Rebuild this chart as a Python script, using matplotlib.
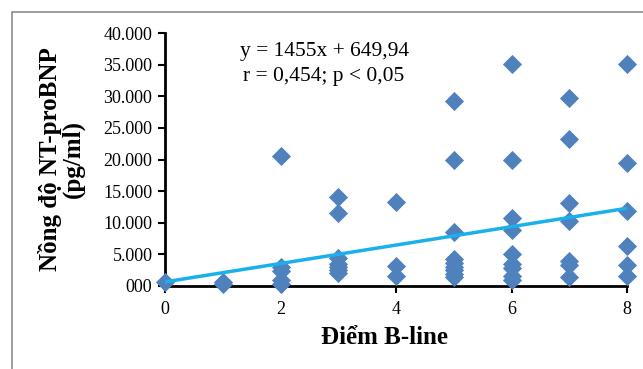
import matplotlib.pyplot as plt
import matplotlib.patches as mpatches
import numpy as np

plt.rcParams['font.family'] = ['Liberation Serif', 'DejaVu Serif']

# Điểm B-line và nồng độ NT-proBNP
bline = [0,
         1, 1,
         2, 2, 2, 2, 2,
         3, 3, 3, 3, 3, 3, 3,
         4, 4, 4,
         5, 5, 5, 5, 5, 5, 5, 5, 5,
         6, 6, 6, 6, 6, 6, 6, 6, 6,
         7, 7, 7, 7, 7, 7, 7,
         8, 8, 8, 8, 8, 8]
ntprobnp = [600,
            300, 700,
            20500, 3000, 2400, 1000, 300,
            14100, 11600, 4500, 3500, 3000, 2500, 2000,
            13300, 3100, 1600,
            29300, 19900, 8600, 4200, 3600, 3000, 2500, 1900, 1400,
            35100, 20000, 10700, 8800, 5000, 3500, 2800, 1600, 1000,
            29700, 23200, 13100, 10300, 4000, 3300, 1400,
            35100, 19500, 11900, 6400, 3300, 1600]

slope, intercept = 1455, 649.94
y_ticks = [0, 5000, 10000, 15000, 20000, 25000, 30000, 35000, 40000]
y_ticklabels = ['000', '5.000', '10.000', '15.000', '20.000', '25.000',
                '30.000', '35.000', '40.000']
x_ticks = [0, 2, 4, 6, 8]

fig = plt.figure(figsize=(6.43, 3.69), dpi=100)
# khung biểu đồ kiểu Excel
fig.patches.append(mpatches.Rectangle((12 / 643, -0.1), 1.2, 1.1 - 12 / 369,
                                      transform=fig.transFigure, fill=False,
                                      edgecolor='#8c8c8c', linewidth=1.2))
ax = fig.add_axes([165 / 643, 1 - 286 / 369, (627 - 165) / 643, (286 - 33) / 369])

ax.scatter(bline, ntprobnp, marker='D', s=95, color='#4F81BD', zorder=3,
           clip_on=False, linewidths=0)
xs = np.array([0, 8])
ax.plot(xs, slope * xs + intercept, color='#1AB0EC', linewidth=2.5, zorder=4)

ax.set_xlim(0, 8)
ax.set_ylim(0, 40000)
ax.set_xticks(x_ticks)
ax.set_yticks(y_ticks)
ax.set_yticklabels(y_ticklabels)
ax.tick_params(axis='both', direction='out', length=5, width=1.5, labelsize=13,
               colors='black')
ax.tick_params(axis='x', pad=6)
ax.tick_params(axis='y', pad=4)
for s in ['top', 'right']:
    ax.spines[s].set_visible(False)
for s in ['left', 'bottom']:
    ax.spines[s].set_linewidth(2)

ax.set_xlabel('Điểm B-line', fontsize=18, fontweight='bold')
ax.xaxis.set_label_coords(0.475, -0.16)
ax.set_ylabel('Nồng độ NT-proBNP\n(pg/ml)', fontsize=18, fontweight='bold',
              linespacing=0.95)
ax.yaxis.set_label_coords(-80 / 462, 0.5)

ax.text(0.162, 0.925, 'y = 1455x + 649,94', transform=ax.transAxes, fontsize=15.5,
        ha='left', va='center')
ax.text(0.168, 0.83, 'r = 0,454; p < 0,05', transform=ax.transAxes, fontsize=15.5,
        ha='left', va='center')

fig.savefig('out.png', dpi=100)
